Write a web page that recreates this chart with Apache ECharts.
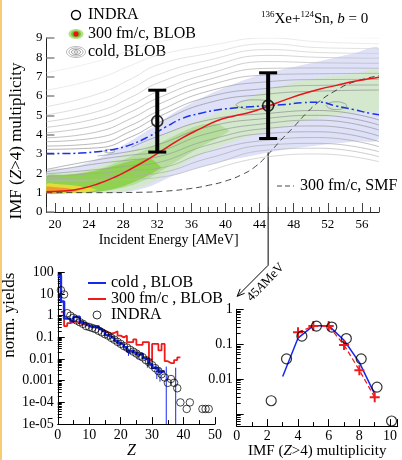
<!DOCTYPE html>
<html>
<head>
<meta charset="utf-8">
<script src="https://cdn.jsdelivr.net/npm/echarts@6.0.0/dist/echarts.min.js"></script>
<style>
html,body{margin:0;padding:0;background:#fff;}
#chart{width:402px;height:460px;}
</style>
</head>
<body>
<div id="chart"></div>
<script>
// ================= DATA =================
// ---- Top panel: IMF (Z>4) multiplicity vs incident energy ----
const energyTicks = [20, 24, 28, 32, 36, 40, 44, 48, 52, 56];

const meanE        = [19,21,23,25,27,29,31,33,35,37,39,41,43,45,47,49,51,53,55,57,58];
const hotBlobMean  = [1.05,1.08,1.2,1.45,1.8,2.25,2.75,3.3,3.85,4.3,4.72,4.97,5.17,5.47,5.8,6.1,6.35,6.55,6.75,6.9,6.97];
const coldBlobMean = [3.03,3.02,3.05,3.12,3.25,3.5,3.9,4.4,4.85,5.1,5.28,5.38,5.45,5.5,5.56,5.65,5.68,5.48,5.3,5.1,5.03];

const smfE    = [19,25,30,33,36,38,40,42,43.5,45,46.5,48,49.5,51,53,55,58];
const smfMean = [1.0,1.0,1.02,1.08,1.22,1.38,1.6,1.95,2.35,2.98,3.72,4.4,5.12,5.72,6.3,6.72,7.05];

const indraTopE    = [32, 45];
const indraTopMean = [4.7, 5.5];
const indraTopLow  = [3.1, 3.8];
const indraTopHigh = [6.3, 7.2];

// 300 fm/c BLOB distribution (filled density levels)
const bandE    = [19,22,25,28,31,34,37,40,43,46,49,52,55,58];
const lavLow   = [1.0,1.0,1.0,1.0,1.3,1.9,2.3,2.65,2.9,3.15,3.35,3.5,3.65,3.8];
const lavHigh  = [2.1,2.3,2.75,3.45,4.25,5.15,5.85,6.45,6.95,7.3,7.6,7.9,8.2,8.45];
const paleLow  = [1.0,1.0,1.0,1.05,1.45,2.2,2.95,3.5,3.95,4.35,4.7,4.95,5.15,5.3];
const paleHigh = [1.95,2.05,2.35,2.95,3.6,4.25,4.75,5.3,5.95,6.45,6.8,7.0,7.15,7.3];
const midE     = [19,22,25,28,31,34,37,39,40.5];
const midLow   = [1.0,1.0,1.05,1.25,1.75,2.55,3.35,3.8,4.2];
const midHigh  = [1.85,1.95,2.2,2.7,3.3,3.95,4.5,4.55,4.2];
const limeE    = [19,21,23,25,27,29,31,32.5];
const limeLow  = [1.0,1.0,1.0,1.05,1.2,1.5,1.9,2.3];
const limeHigh = [1.85,1.9,2.0,2.15,2.4,2.65,2.8,2.3];
const yellowE    = [19,20,21,22,23,24,25];
const yellowLow  = [1.0,1.0,1.0,1.0,1.0,1.05,1.15];
const yellowHigh = [1.45,1.45,1.42,1.38,1.32,1.25,1.15];
const orangeE    = [19,20,21,22,23];
const orangeLow  = [1.02,1.02,1.03,1.05,1.1];
const orangeHigh = [1.3,1.28,1.25,1.18,1.1];

// cold BLOB distribution (contour lines)
const contourE = [19,25,29,32,38,45,51,58];
const contourUpper = [
  [3.24,3.32,3.9,4.59,5.65,6.1,6.25,6.31],
  [3.41,3.55,4.2,4.9,5.95,6.4,6.55,6.57],
  [3.64,3.85,4.5,5.19,6.25,6.74,6.85,6.86],
  [3.84,4.15,4.85,5.54,6.55,7.09,7.15,7.17],
  [4.1,4.5,5.2,5.88,6.85,7.43,7.45,7.43],
  [4.38,4.85,5.55,6.22,7.15,7.78,7.72,7.69],
  [4.67,5.2,5.95,6.66,7.5,8.1,8.0,7.95],
  [5.02,5.62,6.4,7.09,7.85,8.4,8.25,8.2],
  [5.45,6.1,6.9,7.6,8.2,8.7,8.5,8.45],
  [6.3,6.9,7.6,8.1,8.6,9.0,8.8,8.7],
  [7.2,7.8,8.4,8.8,9.1,9.3,9.1,9.0]
];
const contourLower = [
  [null,null,3.35,3.9,4.76,5.1,5.25,4.76],
  [null,2.9,3.15,3.47,4.41,4.85,5.0,4.5],
  [2.2,2.7,2.95,3.12,4.07,4.59,4.75,4.24],
  [2.08,2.5,2.7,2.85,3.72,4.33,4.45,3.93],
  [1.97,2.2,2.4,2.55,3.47,4.07,4.15,3.64],
  [1.83,2.0,2.15,2.25,3.12,3.72,3.85,3.38],
  [1.72,1.8,1.9,2.0,2.78,3.47,3.55,3.12],
  [1.62,1.65,1.7,1.78,2.43,3.2,3.3,2.86],
  [null,null,null,null,2.1,2.86,3.0,2.6]
];
const contourLoopA = [[41.2,5.55],[41.9,5.72],[43.5,5.8],[45.1,5.72],[45.8,5.55],[45.1,5.38],[43.5,5.3],[41.9,5.38],[41.2,5.55]];
const contourLoopB = [[51.8,5.5],[52.2,5.64],[53,5.7],[53.8,5.64],[54.2,5.5],[53.8,5.36],[53,5.3],[52.2,5.36],[51.8,5.5]];
const contourLoopC = [[25.7,3.15],[26.0,3.22],[26.4,3.24],[26.8,3.22],[27.0,3.15],[26.8,3.08],[26.4,3.06],[26.0,3.08],[25.7,3.15]];

// ---- Bottom-left: charge distribution ----
const yieldTickExp    = [-5,-4,-3,-2,-1,0,1,2];
const yieldTickLabels = ['1e-05','1e-04','0.001','0.01','0.1','1','10','100'];
const coldZ     = [0,1,2,3,4,5,6,7,8,9,10,11,12,13,14,15,16,17,18,19,20,21,22,23,24,25,26,27,28,29,30,31,32,33];
const coldYield = [70,4.5,0.75,0.7,0.55,0.9,0.9,0.5,0.42,0.35,0.3,0.3,0.33,0.25,0.2,0.13,0.11,0.09,0.07,0.055,0.045,0.035,0.022,0.025,0.02,0.016,0.018,0.011,0.009,0.006,0.004,0.0035,0.0025,0.0028];
const hotZ     = [1,2,3,4,5,6,7,8,9,10,11,12,13,14,15,16,17,18,19,20,21,22,23,24,25,26,27,28,29,30,31,32,33,34,35,36,37,38];
const hotYield = [1.5,0.33,0.45,0.5,0.55,0.45,0.4,0.38,0.35,0.33,0.3,0.28,0.24,0.2,0.17,0.15,0.16,0.19,0.12,0.1,0.12,0.06,0.06,0.08,0.045,0.045,0.06,0.06,0.009,0.05,0.05,0.025,0.05,0.008,0.0065,0.0065,0.009,0.012];
const coldErrZ    = [16.5,19.5,22.5,25.5,28.5,31.5,32.5,34.5,37.5];
const coldErrLow  = [0.08,0.04,0.014,0.01,0.004,0.0012,0.0009,0.00001,0.00001];
const coldErrHigh = [0.14,0.07,0.03,0.025,0.012,0.005,0.004,0.0045,0.004];
const indraZ     = [1,2,3,4,5,6,7,8,9,10,11,12,13,14,15,16,17,18,19,20,21,22,23,24,25,26,27,28,29,30,31,32,33,34,35,36,37,38,39,41,42,46,47,48];
const indraYield = [15,9.5,1.3,1.0,0.8,0.6,0.5,0.42,0.33,0.3,0.27,0.24,0.2,0.17,0.14,0.12,0.095,0.078,0.062,0.05,0.04,0.034,0.027,0.022,0.018,0.014,0.012,0.009,0.0072,0.0052,0.0038,0.0028,0.002,0.0014,0.0008,0.0012,0.0008,0.00045,0.0001,0.00005,0.0001,0.00005,0.00005,0.00005];

// ---- Bottom-right: IMF multiplicity distribution at 45 AMeV ----
const probTickExp    = [-2,-1,0];
const probTickLabels = ['0.01','0.1','1'];
const indraMult = [2.25,3.25,4.25,5.2,6.2,7.15,8.12,9.15,10.1];
const indraProb = [0.0024,0.038,0.17,0.33,0.31,0.145,0.038,0.0059,0.00063];
const coldMult  = [3,4,5,6,7,8,9];
const coldProb  = [0.0118,0.15,0.34,0.34,0.13,0.03,0.0037];
const hotMult   = [4,5,6,7,8,9];
const hotProb   = [0.22,0.33,0.33,0.095,0.018,0.003];

// ================= CHART =================
const SERIF = 'Liberation Serif';
const chart = echarts.init(document.getElementById('chart'), null, {renderer:'canvas', width:402, height:460});

function pairs(xs, ys){ const out=[]; xs.forEach((x,i)=>{ if(ys[i]!==null && ys[i]!==undefined) out.push([x, ys[i]]); }); return out; }

function bandSeries(E, lo, hi, color){
  return {
    type:'custom', xAxisIndex:0, yAxisIndex:0, z:1, silent:true,
    data: E.map((e,i)=>[e, lo[i], hi[i]]),
    encode:{x:0, y:[1,2]},
    renderItem:(params, api)=>{
      if(params.dataIndex !== 0) return null;
      const pts=[];
      for(let i=0;i<E.length;i++) pts.push(api.coord([E[i], hi[i]]));
      for(let i=E.length-1;i>=0;i--) pts.push(api.coord([E[i], lo[i]]));
      const cs = params.coordSys;
      return {type:'group', clipPath:{type:'rect', shape:{x:cs.x, y:cs.y, width:cs.width, height:cs.height}},
        children:[{type:'polygon', shape:{points:pts, smooth:0.3}, style:{fill:color}}]};
    }
  };
}
function contourLine(data, color, w){
  return {type:'line', xAxisIndex:0, yAxisIndex:0, data, smooth:true, symbol:'none', silent:true, z:2,
    lineStyle:{color, width:w||0.7}};
}

const upperColors = ['#929292','#999999','#a0a0a0','#a8a8a8','#b0b0b0','#b9b9b9','#c3c3c3','#cdcdcd','#d6d6d6','#e2e2e2','#eaeaea'];
const lowerColors = ['#8e8e8e','#929292','#969696','#9a9a9a','#9f9f9f','#a6a6a6','#afafaf','#b9b9b9','#c6c6c6'];

const series = [];
series.push(bandSeries(bandE, lavLow, lavHigh, '#dee1f8'));
series.push(bandSeries(bandE, paleLow, paleHigh, '#d3e8cd'));
series.push(bandSeries(midE, midLow, midHigh, '#b5de9c'));
series.push(bandSeries(limeE, limeLow, limeHigh, '#8fd250'));
series.push(bandSeries(yellowE, yellowLow, yellowHigh, '#e4dc3a'));
series.push(bandSeries(orangeE, orangeLow, orangeHigh, '#f29a2e'));
contourUpper.forEach((v,k)=>series.push(contourLine(pairs(contourE, v), upperColors[k])));
contourLower.forEach((v,k)=>series.push(contourLine(pairs(contourE, v), lowerColors[k])));
series.push(contourLine(contourLoopA, '#888888'));
series.push(contourLine(contourLoopB, '#888888'));
series.push(contourLine(contourLoopC, '#888888'));

series.push({name:'300 fm/c, SMF', type:'line', xAxisIndex:0, yAxisIndex:0, data:pairs(smfE, smfMean), smooth:true, symbol:'none', z:3,
  lineStyle:{color:'#333', width:0.9, type:[6,4]}});
series.push({name:'cold, BLOB mean', type:'line', xAxisIndex:0, yAxisIndex:0, data:pairs(meanE, coldBlobMean), smooth:true, symbol:'none', z:3,
  lineStyle:{color:'#1a33e6', width:1.5, type:[8,3,2,3]}});
series.push({name:'300 fm/c, BLOB mean', type:'line', xAxisIndex:0, yAxisIndex:0, data:pairs(meanE, hotBlobMean), smooth:true, symbol:'none', z:3,
  lineStyle:{color:'#e8141b', width:1.5}});
series.push({name:'INDRA err', type:'custom', xAxisIndex:0, yAxisIndex:0, z:4,
  data: indraTopE.map((e,i)=>[e, indraTopLow[i], indraTopHigh[i]]),
  encode:{x:0, y:[1,2]},
  renderItem:(params, api)=>{
    const x=api.value(0), lo=api.coord([x, api.value(1)]), hi=api.coord([x, api.value(2)]);
    const w=9;
    return {type:'group', children:[
      {type:'line', shape:{x1:lo[0],y1:lo[1],x2:hi[0],y2:hi[1]}, style:{stroke:'#000', lineWidth:4}},
      {type:'line', shape:{x1:lo[0]-w,y1:lo[1],x2:lo[0]+w,y2:lo[1]}, style:{stroke:'#000', lineWidth:3}},
      {type:'line', shape:{x1:hi[0]-w,y1:hi[1],x2:hi[0]+w,y2:hi[1]}, style:{stroke:'#000', lineWidth:3}}
    ]};
  }});
series.push({name:'INDRA top', type:'scatter', xAxisIndex:0, yAxisIndex:0, z:5, data:pairs(indraTopE, indraTopMean),
  symbol:'circle', symbolSize:11, itemStyle:{color:'rgba(0,0,0,0)', borderColor:'#000', borderWidth:1.6}});

// bottom-left
function stepData(xs, ys){ const d = pairs(xs, ys); d.push([xs[xs.length-1]+1, ys[ys.length-1]]); return d; }
series.push({name:'cold , BLOB', type:'line', xAxisIndex:2, yAxisIndex:1, data:stepData(coldZ, coldYield), step:'end', symbol:'none', z:3,
  lineStyle:{color:'#1428f0', width:2.5}, itemStyle:{color:'#1428f0'}});
series.push({name:'300 fm/c , BLOB', type:'line', xAxisIndex:2, yAxisIndex:1, data:stepData(hotZ, hotYield), step:'end', symbol:'none', z:2,
  lineStyle:{color:'#f01a1a', width:1.8}, itemStyle:{color:'#f01a1a'}});
series.push({name:'cold err', type:'custom', xAxisIndex:2, yAxisIndex:1, z:3,
  data: coldErrZ.map((z,i)=>[z, coldErrLow[i], coldErrHigh[i]]),
  encode:{x:0, y:[1,2]},
  renderItem:(params, api)=>{
    const x=api.value(0), lo=api.coord([x, api.value(1)]), hi=api.coord([x, api.value(2)]);
    return {type:'line', shape:{x1:lo[0],y1:lo[1],x2:hi[0],y2:hi[1]}, style:{stroke:'#1428f0', lineWidth:1}};
  }});
series.push({name:'INDRA', type:'scatter', xAxisIndex:2, yAxisIndex:1, z:4, data:pairs(indraZ, indraYield),
  symbol:'circle', symbolSize:7.5, itemStyle:{color:'rgba(0,0,0,0)', borderColor:'#000', borderWidth:0.9}});

// bottom-right
series.push({name:'cold mult', type:'line', xAxisIndex:3, yAxisIndex:2, data:pairs(coldMult, coldProb), symbol:'none', z:3,
  lineStyle:{color:'#1428f0', width:1.5}});
series.push({name:'hot mult', type:'line', xAxisIndex:3, yAxisIndex:2, data:pairs(hotMult, hotProb), z:3,
  symbol:'path://M4,0 H6 V4 H10 V6 H6 V10 H4 V6 H0 V4 H4 Z', symbolSize:10,
  lineStyle:{color:'#f01a1a', width:1.3, type:[5,3]}, itemStyle:{color:'#f01a1a'}});
series.push({name:'INDRA mult', type:'scatter', xAxisIndex:3, yAxisIndex:2, z:4, data:pairs(indraMult, indraProb),
  symbol:'circle', symbolSize:10, itemStyle:{color:'rgba(0,0,0,0)', borderColor:'#000', borderWidth:1.2}});

const lbl = {fontFamily:SERIF, color:'#000'};
const logFmt = (exps, labels) => v => { const l=Math.log10(v); const k=Math.round(l); if(Math.abs(l-k)>1e-6) return ''; const idx=exps.indexOf(k); return idx<0?'':labels[idx]; };
const minorLogTicks = (lo, hi) => { const t=[]; for(let d=lo; d<hi; d++){ for(let m=2;m<=9;m++) t.push(m*Math.pow(10,d)); } return t; };
const hiddenLineIcon = {color:'rgba(0,0,0,0)', borderWidth:0, opacity:0};

const option = {
  animation:false,
  backgroundColor:'#fff',
  grid:[
    {left:45, top:38, width:334, height:174},
    {left:45.7, top:272.3, width:169.3, height:157.7},
    {left:236.7, top:309.3, width:161, height:119.7}
  ],
  legend:{
    data:[
      {name:'cold , BLOB', itemStyle:hiddenLineIcon},
      {name:'300 fm/c , BLOB', itemStyle:hiddenLineIcon},
      {name:'INDRA', itemStyle:{color:'rgba(0,0,0,0)', borderColor:'#000', borderWidth:1}}
    ],
    selectedMode:false, padding:0,
    orient:'vertical', left:87, top:275, itemWidth:18, itemHeight:8, itemGap:0,
    textStyle:{fontFamily:SERIF, fontSize:16, color:'#000', lineHeight:15}
  },
  xAxis:[
    {gridIndex:0, type:'value', min:19, max:58, position:'bottom',
      axisLine:{lineStyle:{color:'#222', width:1}},
      axisTick:{inside:true, length:9, customValues:energyTicks, lineStyle:{color:'#444'}},
      axisLabel:Object.assign({customValues:energyTicks, margin:6, fontSize:13}, lbl),
      splitLine:{show:false},
      name:'Incident Energy [{i|A}MeV]', nameLocation:'middle', nameGap:21,
      nameTextStyle:{fontFamily:SERIF, fontSize:14, color:'#000', padding:[0,88,0,0],
        rich:{i:{fontFamily:SERIF, fontSize:14, fontStyle:'italic', color:'#000'}}}},
    {gridIndex:0, type:'value', min:19, max:58, interval:1, position:'bottom',
      axisLine:{show:false}, axisTick:{inside:true, length:5, lineStyle:{color:'#444'}},
      axisLabel:{show:false}, splitLine:{show:false}},
    {gridIndex:1, type:'value', min:0, max:50, interval:10, position:'bottom',
      axisLine:{lineStyle:{color:'#000'}},
      axisTick:{inside:true, length:7, lineStyle:{color:'#000'}},
      minorTick:{show:true, splitNumber:2, length:4, lineStyle:{color:'#000'}},
      axisLabel:Object.assign({margin:4, fontSize:14}, lbl),
      splitLine:{show:false}, minorSplitLine:{show:false},
      name:'{i|Z}', nameLocation:'middle', nameGap:15,
      nameTextStyle:{padding:[0,10,0,0], rich:{i:{fontFamily:SERIF, fontSize:16, fontStyle:'italic', color:'#000'}}}},
    {gridIndex:2, type:'value', min:0, max:10.5, interval:2, position:'bottom',
      axisLine:{lineStyle:{color:'#000'}},
      axisTick:{inside:true, length:7, lineStyle:{color:'#000'}},
      minorTick:{show:true, splitNumber:2, length:4, lineStyle:{color:'#000'}},
      axisLabel:Object.assign({margin:3, fontSize:14, formatter:v=>(v%2===0 && v<=10)?String(v):''}, lbl),
      splitLine:{show:false}, minorSplitLine:{show:false},
      name:'IMF ({i|Z}>4) multiplicity', nameLocation:'middle', nameGap:15,
      nameTextStyle:{fontFamily:SERIF, fontSize:15, color:'#000',
        rich:{i:{fontFamily:SERIF, fontSize:15, fontStyle:'italic', color:'#000'}}}}
  ],
  yAxis:[
    {gridIndex:0, type:'value', min:0, max:9, interval:1, position:'left',
      axisLine:{lineStyle:{color:'#222'}},
      axisTick:{inside:true, length:8, lineStyle:{color:'#888', width:1.5}},
      axisLabel:Object.assign({margin:4, fontSize:13}, lbl),
      splitLine:{show:false},
      name:'IMF ({i|Z}>4) multiplicity', nameLocation:'middle', nameGap:14,
      nameTextStyle:{fontFamily:SERIF, fontSize:17, color:'#000', padding:[0,32,0,0],
        rich:{i:{fontFamily:SERIF, fontSize:17, fontStyle:'italic', color:'#000'}}}},
    {gridIndex:1, type:'log', logBase:10, min:1e-5, max:100, position:'left',
      axisLine:{lineStyle:{color:'#000'}},
      axisTick:{inside:true, length:7, lineStyle:{color:'#000'}},
      axisLabel:Object.assign({margin:4, fontSize:14, formatter:logFmt(yieldTickExp, yieldTickLabels)}, lbl),
      splitLine:{show:false},
      name:'norm. yields', nameLocation:'middle', nameGap:24,
      nameTextStyle:{fontFamily:SERIF, fontSize:17, color:'#000', padding:[0,0,0,66]}},
    {gridIndex:2, type:'log', logBase:10, min:4.5e-4, max:1, position:'left',
      axisLine:{lineStyle:{color:'#000'}},
      axisTick:{inside:true, length:7, lineStyle:{color:'#000'}},
      axisLabel:Object.assign({margin:4, fontSize:14, formatter:logFmt(probTickExp, probTickLabels)}, lbl),
      splitLine:{show:false}},
    {gridIndex:1, type:'log', logBase:10, min:1e-5, max:100, position:'left',
      axisLine:{show:false}, axisLabel:{show:false}, splitLine:{show:false},
      axisTick:{inside:true, length:4, customValues:minorLogTicks(-5,2), lineStyle:{color:'#000'}}},
    {gridIndex:2, type:'log', logBase:10, min:4.5e-4, max:1, position:'left',
      axisLine:{show:false}, axisLabel:{show:false}, splitLine:{show:false},
      axisTick:{inside:true, length:4, customValues:minorLogTicks(-4,0).filter(v=>v>=4.5e-4), lineStyle:{color:'#000'}}}
  ],
  series
};
chart.setOption(option);

// ---- annotations (legend of top panel, title, arrow to 45 AMeV panel) ----
const pBar = chart.convertToPixel({xAxisIndex:0, yAxisIndex:0}, [indraTopE[1], indraTopLow[1]]);
const pCorner = chart.convertToPixel({xAxisIndex:3, yAxisIndex:2}, [0, 1]);
const bendY = pCorner[1] - 44;
const tip = [pCorner[0] + 0.5, pCorner[1] - 13];
const dx = pBar[0] - tip[0], dy = bendY - tip[1], len = Math.hypot(dx, dy);
const ux = dx/len, uy = dy/len, ah = 8, ca = Math.cos(0.4), sa = Math.sin(0.4);
const h1 = [tip[0] + ah*(ux*ca - uy*sa), tip[1] + ah*(ux*sa + uy*ca)];
const h2 = [tip[0] + ah*(ux*ca + uy*sa), tip[1] + ah*(-ux*sa + uy*ca)];
const font16 = '16px "Liberation Serif"';

chart.setOption({graphic:[
  {type:'line', shape:{x1:1, y1:0, x2:1, y2:460}, style:{stroke:'#f2bd45', lineWidth:1.5}},
  // top legend
  {type:'circle', shape:{cx:76, cy:15, r:4.5}, style:{fill:'none', stroke:'#000', lineWidth:1.4}},
  {type:'text', x:88, y:15, style:{text:'INDRA', font:font16, fill:'#000', verticalAlign:'middle'}},
  {type:'ellipse', shape:{cx:76, cy:34, rx:7.5, ry:5}, style:{fill:'#b5e08a'}},
  {type:'ellipse', shape:{cx:76, cy:34, rx:5, ry:3.5}, style:{fill:'#6cc632'}},
  {type:'circle', shape:{cx:76, cy:34, r:2.6}, style:{fill:'#f01010'}},
  {type:'text', x:88, y:34, style:{text:'300 fm/c, BLOB', font:font16, fill:'#000', verticalAlign:'middle'}},
  {type:'ellipse', shape:{cx:76, cy:52, rx:9.5, ry:5.5}, style:{fill:'none', stroke:'#aaa', lineWidth:0.8}},
  {type:'ellipse', shape:{cx:76, cy:52, rx:7, ry:4}, style:{fill:'none', stroke:'#999', lineWidth:0.8}},
  {type:'ellipse', shape:{cx:76, cy:52, rx:4.5, ry:2.6}, style:{fill:'none', stroke:'#888', lineWidth:0.8}},
  {type:'ellipse', shape:{cx:76, cy:52, rx:2, ry:1.2}, style:{fill:'none', stroke:'#777', lineWidth:0.8}},
  {type:'text', x:88, y:52, style:{text:'cold, BLOB', font:font16, fill:'#000', verticalAlign:'middle'}},
  // title
  {type:'text', x:261, y:19, style:{text:'{s|136}Xe+{s|124}Sn, {i|b} = 0', font:'15px "Liberation Serif"', fill:'#000', verticalAlign:'middle',
    rich:{s:{fontSize:9, fontFamily:SERIF, padding:[0,0,9,0]}, i:{fontSize:15, fontFamily:SERIF, fontStyle:'italic'}}}},
  // SMF legend
  {type:'line', shape:{x1:277, y1:186, x2:294, y2:186}, style:{stroke:'#333', lineWidth:0.9, lineDash:[5,3]}},
  {type:'text', x:300, y:186, style:{text:'300 fm/c, SMF', font:font16, fill:'#000', verticalAlign:'middle'}},
  // arrow from 45 AMeV point to lower right panel
  {type:'polyline', shape:{points:[[pBar[0], pBar[1]], [pBar[0], bendY], tip]}, style:{stroke:'#000', lineWidth:1, fill:'none'}},
  {type:'polyline', shape:{points:[h1, tip, h2]}, style:{stroke:'#000', lineWidth:1, fill:'none'}},
  {type:'text', x:pCorner[0]+29, y:pCorner[1]-27, rotation:46*Math.PI/180,
    style:{text:'45{i|A}MeV', font:'13px "Liberation Serif"', fill:'#000', align:'center', verticalAlign:'middle',
      rich:{i:{fontSize:13, fontFamily:SERIF, fontStyle:'italic'}}}}
]});
</script>
</body>
</html>
